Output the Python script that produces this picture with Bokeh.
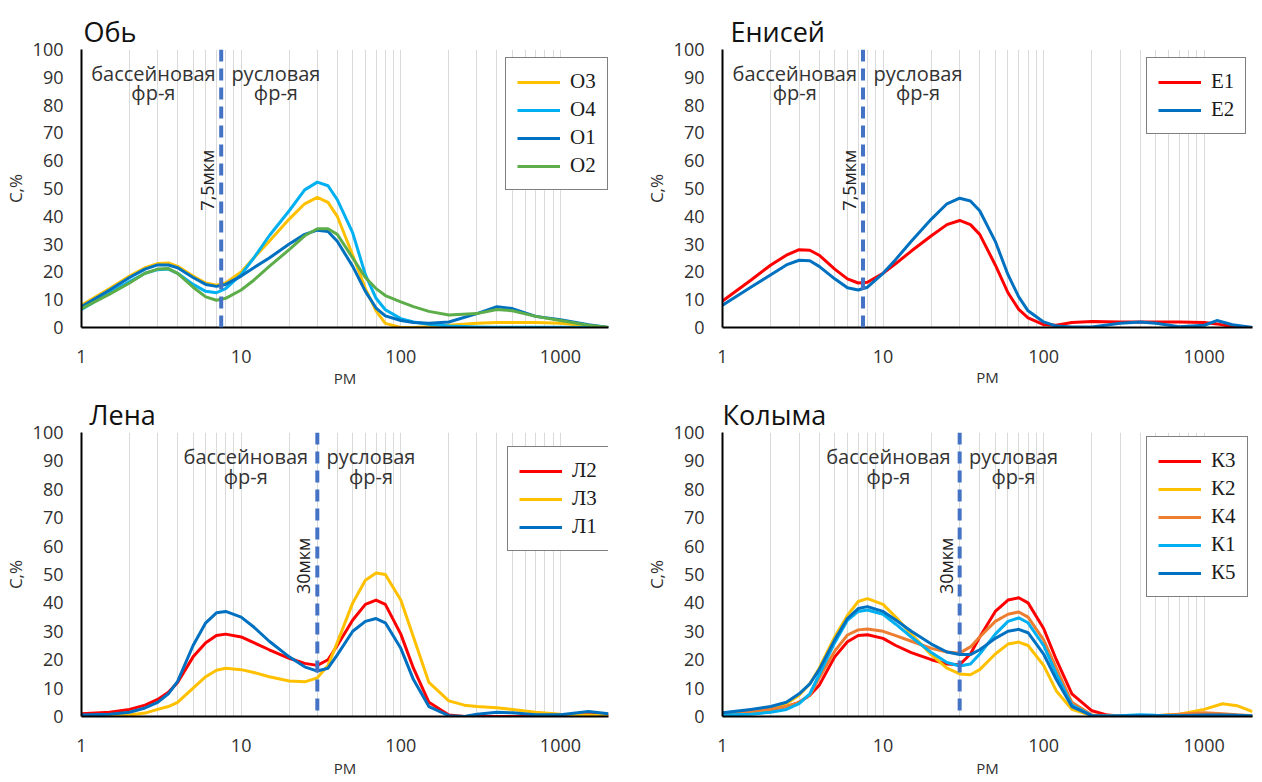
from bokeh.plotting import figure
from bokeh.models import (Range1d, FixedTicker, BasicTickFormatter, Span, Legend,
                          LegendItem, ColumnDataSource)
from bokeh.layouts import column, row
from bokeh.embed import file_html
from bokeh.resources import INLINE

# ---------------- data ----------------
# Обь
ob_x = [1, 1.5, 2, 2.5, 3, 3.5, 4, 5, 6, 7, 8, 10, 12, 15, 20, 25, 30, 35, 40, 50,
        60, 70, 80, 100, 120, 150, 200, 300, 400, 500, 700, 1000, 1500, 2000]
ob_O3 = [8, 14, 18.5, 21.5, 23, 23.2, 22, 18.5, 16, 15.2, 16, 20, 25, 31, 39, 44.5, 46.8, 45, 40, 26,
         14, 6, 1.5, 0, 0, 0.3, 0.8, 1.5, 1.8, 1.8, 1.8, 1.5, 0.5, 0]
ob_O4 = [6.5, 12.5, 16.5, 19.5, 20.8, 21, 19.5, 15.5, 13, 12.5, 14, 19, 25, 33, 42, 49.5, 52.3, 51, 46, 34,
         19, 10.5, 6.4, 3.2, 2, 1.2, 0.5, 0.2, 0.1, 0.1, 0.1, 0.1, 0, 0]
ob_O1 = [7.5, 13.5, 18, 21, 22.5, 22.5, 21.5, 18, 15.5, 14.8, 15.5, 18.5, 21.5, 25, 30, 33.5, 35, 34.5, 31, 22,
         13, 7, 4.2, 2.5, 1.8, 1.5, 2, 5, 7.5, 6.8, 4, 2.8, 1, 0]
ob_O2 = [6.8, 12, 16, 19.5, 21, 21.2, 19.5, 14.5, 11, 9.8, 10.5, 13.5, 17, 22, 28, 33, 35.5, 35.5, 33.5, 25,
         18, 14, 11.5, 9.2, 7.5, 5.8, 4.5, 5, 6.5, 6, 4, 2.5, 0.8, 0]

# Енисей
en_x = [1, 1.5, 2, 2.5, 3, 3.5, 4, 5, 6, 7, 8, 10, 12, 15, 20, 25, 30, 35, 40, 50,
        60, 70, 80, 100, 120, 150, 200, 300, 400, 500, 700, 1000, 1200, 1500, 2000]
en_E1 = [9.5, 17, 22.5, 26, 28, 27.8, 26, 21, 17.5, 16, 16.3, 19.5, 23, 27.5, 33, 37, 38.5, 37, 33.5, 22.5,
         12.5, 6.5, 3.5, 1, 0.8, 1.8, 2.2, 2, 2, 2, 2, 1.8, 1.3, 0.3, 0]
en_E2 = [8, 14.5, 19, 22.5, 24.2, 24, 22, 17.5, 14.3, 13.5, 14.5, 19.5, 24.5, 31, 39, 44.5, 46.5, 45.5, 42, 31,
         19, 11, 6, 2, 0.5, 0.2, 0.2, 1.5, 2, 1.5, 0.3, 0.8, 2.5, 1, 0]

# Лена
le_x = [1, 1.5, 2, 2.5, 3, 3.5, 4, 5, 6, 7, 8, 10, 12, 15, 20, 25, 30, 35, 40, 50,
        60, 70, 80, 100, 120, 150, 200, 250, 300, 400, 500, 700, 1000, 1500, 2000]
le_L2 = [1, 1.5, 2.5, 4, 6, 8.5, 12, 21, 26, 28.5, 29, 28, 26, 23.5, 20.5, 18.7, 18, 20, 25, 34,
         39.5, 41, 39.5, 29, 17, 5, 0.5, 0, 0, 0, 0, 0, 0.2, 1.2, 0.5]
le_L3 = [0.2, 0.3, 0.5, 1.2, 2.5, 3.5, 5, 10, 14, 16.3, 17, 16.5, 15.5, 14, 12.5, 12.2, 13.6, 18, 26, 40,
         48, 50.5, 50, 41, 28, 12, 5.5, 4, 3.5, 3.1, 2.5, 1.5, 0.8, 0.5, 0.3]
le_L1 = [0.5, 0.8, 1.5, 3, 5, 8, 12.4, 25, 33, 36.5, 37, 35, 31.5, 26.5, 21, 17.5, 16, 17, 21.7, 30,
         33.5, 34.5, 33, 24, 13, 3.5, 0.3, 0, 0.8, 1.5, 1.3, 0.6, 0.6, 1.8, 1]

# Колыма
ko_x = [1, 1.5, 2, 2.5, 3, 3.5, 4, 5, 6, 7, 8, 10, 12, 15, 20, 25, 30, 35, 40, 50,
        60, 70, 80, 100, 120, 150, 200, 250, 300, 400, 500, 700, 1000, 1300, 1600, 2000]
ko_K3 = [1, 1.8, 2.5, 3.5, 5, 7.5, 11, 21, 26.3, 28.5, 28.8, 27.5, 25, 22.5, 20, 18.5, 18.2, 22, 28, 37,
         41, 41.8, 40, 31, 20, 8, 2, 0.5, 0.2, 0.2, 0.2, 0.2, 0.3, 0.3, 0.3, 0.2]
ko_K2 = [0.8, 1.5, 2.5, 4.5, 7.5, 11.5, 17, 28, 35.6, 40.5, 41.5, 39.5, 35, 29, 21.7, 17, 15, 14.7, 16.5, 22,
         25.5, 26.2, 25, 18, 9, 2.5, 0.3, 0.2, 0.2, 0.2, 0.3, 0.8, 2.5, 4.5, 3.8, 1.7]
ko_K4 = [1, 1.8, 2.5, 3.5, 5, 7.5, 13.6, 23, 28.7, 30.5, 30.8, 30, 28.5, 26.5, 24, 22.7, 22.3, 24.5, 28, 33.5,
         36, 36.8, 35, 27, 17, 5, 0.5, 0.2, 0.2, 0.2, 0.3, 0.8, 1.3, 1, 0.6, 0.3]
ko_K1 = [0.5, 0.8, 1.5, 2.5, 4.5, 8, 14.7, 26, 33.9, 37, 37.5, 36, 32.5, 28, 22.5, 19, 17.8, 18.5, 22, 29,
         33.5, 34.7, 33, 25, 15, 4, 0.3, 0.2, 0.3, 0.6, 0.4, 0.3, 0.3, 0.3, 0.3, 0.2]
ko_K5 = [1.3, 2.5, 3.5, 5, 8, 11.5, 16.5, 27, 34.5, 38, 38.7, 37, 34, 30, 25.5, 22.7, 21.8, 21.8, 23.5, 27.5,
         30, 30.7, 29.5, 22, 13, 3.5, 0.3, 0.2, 0.2, 0.3, 0.3, 0.3, 0.5, 0.5, 0.4, 0.2]

x_tick_values = [1, 10, 100, 1000]
y_tick_values = list(range(0, 101, 10))
zone_labels = ["бассейновая", "фр-я", "русловая", "фр-я"]

# ---------------- styling ----------------
FONT = "Open Sans"
C_GOLD = "#FFC000"
C_LBLUE = "#00B0F0"
C_BLUE = "#0070C0"
C_GREEN = "#5DAE4A"
C_RED = "#FF0000"
C_ORANGE = "#ED7D31"
C_CUT = "#4472C4"

grid_ticks = [m * 10 ** k for k in range(4) for m in range(1, 10) if m * 10 ** k <= 2000] + [2000]


def make_panel(title, title_offset, x, series, cutoff, cutoff_text, zone_x, size, borders,
               legend_xy, pm_standoff):
    width, height = size
    left, right, top, bottom = borders
    p = figure(width=width, height=height, x_axis_type="log",
               x_range=Range1d(1, 2000), y_range=Range1d(0, 100),
               output_backend="svg", toolbar_location=None,
               min_border_left=left, min_border_right=right,
               min_border_top=top, min_border_bottom=bottom,
               outline_line_color=None, background_fill_color="white",
               border_fill_color="white")
    # title
    p.title.text = title
    p.title.text_font = FONT
    p.title.text_font_size = "27px"
    p.title.text_font_style = "normal"
    p.title.text_color = "#111111"
    p.title.align = "left"
    p.title.offset = title_offset
    p.title.standoff = 0

    # axes
    xa = p.xaxis[0]
    xa.ticker = FixedTicker(ticks=x_tick_values, minor_ticks=[])
    xa.formatter = BasicTickFormatter(use_scientific=False)
    ya = p.yaxis[0]
    ya.ticker = FixedTicker(ticks=y_tick_values, minor_ticks=[])
    for ax in (xa, ya):
        ax.axis_line_color = "black"
        ax.axis_line_width = 2
        ax.major_tick_line_color = None
        ax.minor_tick_line_color = None
        ax.major_tick_out = 0
        ax.major_tick_in = 0
        ax.major_label_text_font = FONT
        ax.major_label_text_font_size = "18px"
        ax.major_label_text_color = "#303030"
        ax.axis_label_text_font = FONT
        ax.axis_label_text_font_style = "normal"
        ax.axis_label_text_color = "#303030"
    xa.major_label_standoff = 22
    xa.axis_label = "РМ"
    xa.axis_label_text_font_size = "15px"
    xa.axis_label_standoff = pm_standoff
    ya.major_label_standoff = 18
    ya.axis_label = "С,%"
    ya.axis_label_text_font_size = "17px"
    ya.axis_label_standoff = 3

    # grid
    p.ygrid.grid_line_color = None
    p.xgrid.ticker = FixedTicker(ticks=grid_ticks)
    p.xgrid.grid_line_color = "#dadada"
    p.xgrid.grid_line_width = 1

    # zone annotations
    zsrc = ColumnDataSource(dict(x=[zone_x[0], zone_x[0], zone_x[1], zone_x[1]],
                                 y=[91.5, 84.6, 91.5, 84.6], text=zone_labels))
    p.text(x="x", y="y", text="text", source=zsrc, text_align="center",
           text_baseline="middle", text_font={"value": FONT},
           text_font_size="20px", text_color="#333333")

    # cutoff line and its label
    p.add_layout(Span(location=cutoff, dimension="height", line_color=C_CUT,
                      line_width=4, line_dash="12 7"))
    csrc = ColumnDataSource(dict(x=[cutoff], y=[53], text=[cutoff_text]))
    p.text(x="x", y="y", text="text", source=csrc, angle=1.5707963,
           text_align="center", text_baseline="middle", x_offset=-14,
           text_font={"value": FONT}, text_font_size="18px", text_color="#222222")

    # series
    items = []
    for name, ys, color in series:
        r = p.line(x, ys, line_color=color, line_width=3, line_join="round")
        items.append(LegendItem(label=name, renderers=[r]))

    legend = Legend(items=items, location=legend_xy, orientation="vertical",
                    border_line_color="black", border_line_width=1.5,
                    background_fill_color="white", background_fill_alpha=1.0,
                    label_text_font="Liberation Serif", label_text_font_size="21px",
                    label_text_color="#1a1a1a", glyph_width=43, glyph_height=22,
                    label_height=22, spacing=3, padding=11, label_standoff=10,
                    margin=0)
    p.add_layout(legend, "center")
    return p


p_ob = make_panel("Обь", 2, ob_x,
                  [("О3", ob_O3, C_GOLD), ("О4", ob_O4, C_LBLUE),
                   ("О1", ob_O1, C_BLUE), ("О2", ob_O2, C_GREEN)],
                  7.5, "7,5мкм", (2.82, 16.5), (630, 390), (80, 22, 45, 60), (424, 137), 2)
p_en = make_panel("Енисей", 8, en_x,
                  [("Е1", en_E1, C_RED), ("Е2", en_E2, C_BLUE)],
                  7.5, "7,5мкм", (2.82, 16.5), (630, 390), (92, 8, 49, 57), (424, 193), 1)
p_le = make_panel("Лена", 8, le_x,
                  [("Л2", le_L2, C_RED), ("Л3", le_L3, C_GOLD), ("Л1", le_L1, C_BLUE)],
                  30, "30мкм", (10.7, 65), (630, 390), (78, 22, 42, 61), (426, 165), 3)
p_ko = make_panel("Колыма", 0, ko_x,
                  [("К3", ko_K3, C_RED), ("К2", ko_K2, C_GOLD), ("К4", ko_K4, C_ORANGE),
                   ("К1", ko_K1, C_LBLUE), ("К5", ko_K5, C_BLUE)],
                  30, "30мкм", (10.8, 65), (630, 390), (92, 8, 42, 61), (424, 119), 3)

layout = column(row(p_ob, p_en), row(p_le, p_ko))
open("out.html", "w").write(file_html(layout, INLINE))
